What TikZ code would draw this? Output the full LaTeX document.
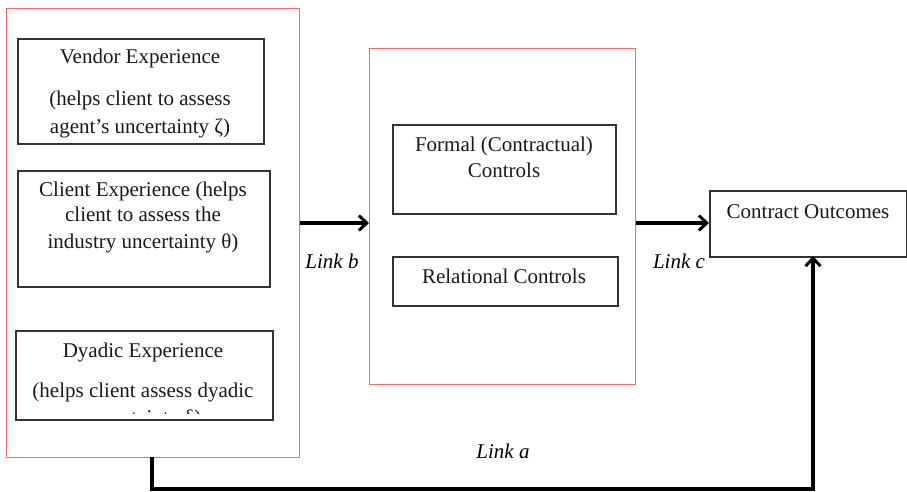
\documentclass[tikz,border=0pt]{standalone}
\usepackage{fontspec}
\setmainfont{Liberation Serif}
\usetikzlibrary{arrows.meta}
\begin{document}
\begin{tikzpicture}[x=1pt,y=-1pt,
  groupbox/.style={draw=red!60!white, line width=1.3pt, inner sep=0pt, anchor=north west},
  itembox/.style={draw=black!80, line width=1.7pt, inner sep=0pt, anchor=north west},
  txt/.style={font=\fontsize{21}{24}\selectfont, text=black!90, inner sep=0pt, anchor=base},
  linklbl/.style={font=\fontsize{21}{24}\selectfont\itshape, inner sep=0pt, anchor=base},
  flow/.style={line width=3.6pt, -{Straight Barb[length=8pt,width=15pt,line width=3pt]}}
]
\useasboundingbox (0,0) rectangle (907,492);

% group frames
\node[groupbox, minimum width=293pt, minimum height=449pt] (exp) at (6,8) {};
\node[groupbox, minimum width=266pt, minimum height=336pt] (ctrl) at (369,48) {};

% experience boxes
\node[itembox, minimum width=246pt, minimum height=105pt] (vendor) at (17,38) {};
\node[itembox, minimum width=252pt, minimum height=116pt] (client) at (17,170) {};
\node[itembox, minimum width=257pt, minimum height=89pt] (dyadic) at (15,330) {};

% control boxes
\node[itembox, minimum width=223pt, minimum height=89pt] (formal) at (392,124) {};
\node[itembox, minimum width=225pt, minimum height=49pt] (relational) at (392,256) {};

% outcome box
\node[itembox, minimum width=197pt, minimum height=66pt] (outcome) at (709,190) {};

% texts
\node[txt] (v1) at (140,64) {Vendor Experience};
\node[txt] (v2) at (140,106) {(helps client to assess};
\node[txt] (v3) at (140,133) {agent’s uncertainty ζ)};

\node[txt] (c1) at (143,196) {Client Experience (helps};
\node[txt] (c2) at (143,221) {client to assess the};
\node[txt] (c3) at (143,248) {industry uncertainty θ)};

\node[txt] (d1) at (143,357) {Dyadic Experience};
\begin{scope}
  \clip (16,331) rectangle (271,413);
  \node[txt] (d2) at (143,397) {(helps client assess dyadic};
  \node[txt] (d3) at (143,424) {uncertainty δ)};
\end{scope}

\node[txt] (f1) at (504,151) {Formal (Contractual)};
\node[txt] (f2) at (504,177) {Controls};
\node[txt] (r1) at (504,283) {Relational Controls};
\node[txt] (o1) at (808,218) {Contract Outcomes};

% links
\coordinate (bstart) at (exp.east |- 0,223);
\coordinate (bend) at (ctrl.west |- 0,223);
\coordinate (cstart) at (ctrl.east |- 0,223);
\coordinate (cend) at (outcome.west |- 0,223);
\draw[flow] (bstart) -- (bend);
\draw[flow] (cstart) -- (cend);
\coordinate (astart) at (152,457);
\draw[flow] (astart) -- (152,489) -- (813,489) -- (813,256);

\node[linklbl] (lb) at (332,268) {Link b};
\node[linklbl] (lc) at (679,268) {Link c};
\node[linklbl] (la) at (503,458) {Link a};
\end{tikzpicture}
\end{document}
